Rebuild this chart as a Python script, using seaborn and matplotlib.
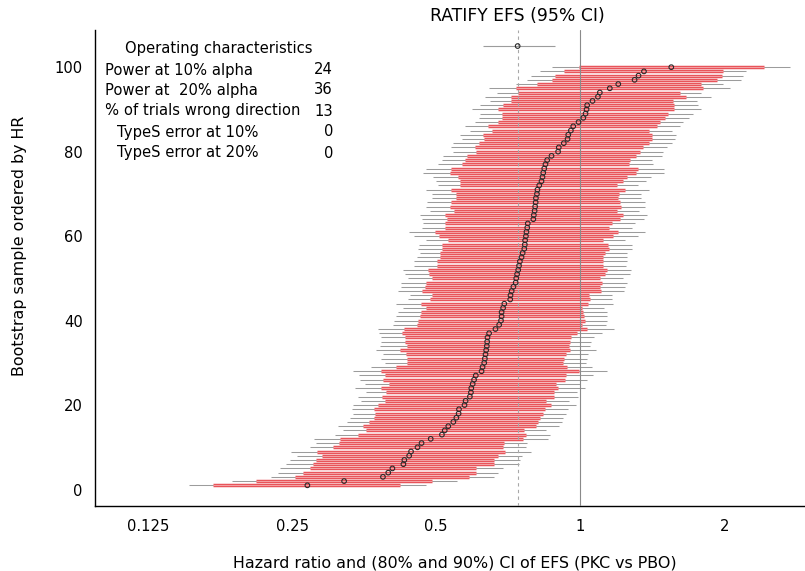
import numpy as np
import pandas as pd
import matplotlib
matplotlib.use("Agg")
import matplotlib.pyplot as plt
import matplotlib.transforms as mtransforms
import seaborn as sns

# ---------------- data ----------------
sample = list(range(1, 101))
hr = [0.269, 0.321, 0.387, 0.397, 0.405, 0.427, 0.429, 0.439, 0.443, 0.457,
      0.466, 0.487, 0.514, 0.521, 0.530, 0.543, 0.551, 0.557, 0.558, 0.573,
      0.576, 0.588, 0.591, 0.592, 0.596, 0.600, 0.605, 0.622, 0.625, 0.630,
      0.632, 0.634, 0.636, 0.638, 0.639, 0.640, 0.645, 0.665, 0.677, 0.683,
      0.685, 0.685, 0.690, 0.694, 0.714, 0.715, 0.719, 0.725, 0.733, 0.735,
      0.738, 0.742, 0.745, 0.748, 0.754, 0.758, 0.764, 0.766, 0.767, 0.770,
      0.772, 0.775, 0.777, 0.798, 0.800, 0.803, 0.805, 0.807, 0.808, 0.812,
      0.814, 0.821, 0.830, 0.834, 0.837, 0.841, 0.846, 0.853, 0.871, 0.899,
      0.902, 0.924, 0.941, 0.944, 0.956, 0.967, 0.992, 1.015, 1.026, 1.031,
      1.034, 1.061, 1.089, 1.099, 1.153, 1.201, 1.299, 1.324, 1.359, 1.550]
lo80 = [0.171, 0.210, 0.254, 0.264, 0.272, 0.276, 0.281, 0.289, 0.282, 0.305,
        0.313, 0.315, 0.344, 0.356, 0.351, 0.362, 0.370, 0.372, 0.370, 0.378,
        0.391, 0.386, 0.392, 0.384, 0.399, 0.387, 0.391, 0.384, 0.413, 0.434,
        0.434, 0.432, 0.421, 0.434, 0.430, 0.430, 0.425, 0.428, 0.455, 0.459,
        0.462, 0.464, 0.476, 0.464, 0.485, 0.491, 0.468, 0.473, 0.476, 0.491,
        0.483, 0.481, 0.503, 0.501, 0.509, 0.510, 0.513, 0.515, 0.530, 0.507,
        0.498, 0.521, 0.521, 0.526, 0.521, 0.544, 0.534, 0.536, 0.550, 0.550,
        0.537, 0.562, 0.560, 0.556, 0.534, 0.537, 0.566, 0.574, 0.580, 0.607,
        0.602, 0.614, 0.630, 0.627, 0.655, 0.642, 0.672, 0.687, 0.685, 0.672,
        0.688, 0.718, 0.715, 0.742, 0.734, 0.811, 0.871, 0.885, 0.926, 0.994]
hi80 = [0.421, 0.491, 0.586, 0.605, 0.607, 0.660, 0.660, 0.672, 0.696, 0.688,
        0.694, 0.758, 0.770, 0.763, 0.807, 0.817, 0.824, 0.837, 0.844, 0.868,
        0.850, 0.882, 0.881, 0.899, 0.892, 0.929, 0.936, 0.995, 0.939, 0.922,
        0.925, 0.936, 0.954, 0.949, 0.951, 0.956, 0.986, 1.034, 1.011, 1.023,
        1.018, 1.015, 1.011, 1.039, 1.047, 1.044, 1.103, 1.099, 1.113, 1.099,
        1.126, 1.135, 1.114, 1.117, 1.117, 1.126, 1.148, 1.144, 1.117, 1.172,
        1.201, 1.150, 1.163, 1.210, 1.230, 1.191, 1.214, 1.210, 1.201, 1.207,
        1.240, 1.191, 1.226, 1.254, 1.311, 1.322, 1.266, 1.270, 1.311, 1.333,
        1.350, 1.394, 1.410, 1.410, 1.394, 1.444, 1.467, 1.503, 1.527, 1.572,
        1.570, 1.560, 1.663, 1.616, 1.808, 1.785, 1.933, 1.974, 1.990, 2.420]
lo90 = [0.152, 0.187, 0.226, 0.234, 0.236, 0.243, 0.248, 0.256, 0.249, 0.272,
        0.280, 0.278, 0.307, 0.320, 0.312, 0.325, 0.330, 0.335, 0.333, 0.335,
        0.349, 0.343, 0.357, 0.339, 0.355, 0.346, 0.345, 0.335, 0.366, 0.390,
        0.384, 0.387, 0.374, 0.381, 0.384, 0.384, 0.380, 0.378, 0.406, 0.408,
        0.413, 0.417, 0.427, 0.413, 0.437, 0.440, 0.417, 0.423, 0.423, 0.437,
        0.430, 0.427, 0.449, 0.449, 0.456, 0.462, 0.458, 0.461, 0.477, 0.449,
        0.438, 0.468, 0.470, 0.467, 0.463, 0.486, 0.476, 0.479, 0.491, 0.491,
        0.476, 0.505, 0.499, 0.493, 0.470, 0.475, 0.505, 0.513, 0.517, 0.543,
        0.538, 0.543, 0.565, 0.560, 0.588, 0.574, 0.602, 0.615, 0.617, 0.594,
        0.617, 0.647, 0.632, 0.670, 0.645, 0.735, 0.775, 0.791, 0.826, 0.871]
hi90 = [0.477, 0.553, 0.660, 0.674, 0.690, 0.746, 0.748, 0.754, 0.791, 0.770,
        0.775, 0.857, 0.864, 0.850, 0.904, 0.914, 0.921, 0.936, 0.945, 0.979,
        0.949, 0.990, 0.986, 1.023, 0.998, 1.034, 1.061, 1.139, 1.056, 1.030,
        1.034, 1.039, 1.078, 1.048, 1.051, 1.068, 1.108, 1.176, 1.131, 1.139,
        1.135, 1.135, 1.120, 1.169, 1.163, 1.163, 1.234, 1.240, 1.254, 1.230,
        1.270, 1.274, 1.246, 1.250, 1.250, 1.254, 1.285, 1.280, 1.240, 1.322,
        1.365, 1.280, 1.301, 1.359, 1.381, 1.329, 1.365, 1.365, 1.337, 1.343,
        1.394, 1.322, 1.372, 1.403, 1.496, 1.500, 1.421, 1.410, 1.479, 1.491,
        1.515, 1.559, 1.577, 1.585, 1.552, 1.616, 1.642, 1.690, 1.717, 1.785,
        1.764, 1.751, 1.873, 1.790, 2.055, 1.990, 2.170, 2.190, 2.220, 2.740]

ref_title = "RATIFY EFS (95% CI)"
ref_y = [105]
ref_hr = [0.74]
ref_lo = [0.625]
ref_hi = [0.885]

xticks = [0.125, 0.25, 0.5, 1, 2]
xtick_labels = ["0.125", "0.25", "0.5", "1", "2"]
yticks = [0, 20, 40, 60, 80, 100]

oc_title = "Operating characteristics"
oc_labels = ["Power at 10% alpha", "Power at  20% alpha",
             "% of trials wrong direction", "TypeS error at 10%",
             "TypeS error at 20%"]
oc_values = ["24", "36", "13", "0", "0"]
oc_indent = [False, False, False, True, True]

xlabel = "Hazard ratio and (80% and 90%) CI of EFS (PKC vs PBO)"
ylabel = "Bootstrap sample ordered by HR"

# ---------------- styling ----------------
sns.set_style("white")
plt.rcParams['font.family'] = ['DejaVu Sans']
plt.rcParams['text.color'] = 'black'
FS = 10.6
FS_T = 11.4

W, H = 805, 571
fig = plt.figure(figsize=(W / 100, H / 100), dpi=100)
ax = fig.add_axes([95 / W, (H - 506) / H, 710 / W, 476 / H])
ax.set_xscale('log', base=2)

df = pd.DataFrame({"sample": sample, "hr": hr, "lo80": lo80, "hi80": hi80,
                   "lo90": lo90, "hi90": hi90})
ref = pd.DataFrame({"y": ref_y, "hr": ref_hr, "lo": ref_lo, "hi": ref_hi})

# 90% CI (thin grey)
ax.hlines(df["sample"], df["lo90"], df["hi90"], color="#9c9c9c", lw=0.75, zorder=1)
# 80% CI (red bar with light centre)
ax.hlines(df["sample"], df["lo80"], df["hi80"], color="#e8545a", lw=2.5, zorder=2)
ax.hlines(df["sample"], df["lo80"], df["hi80"], color="#f6b0b2", lw=0.6, zorder=3)
# reference lines
ax.axvline(1, color="#8a8a8a", lw=0.8, zorder=4)
ax.axvline(ref_hr[0], color="#a8a8a8", lw=0.8, ls=(0, (3, 3)), zorder=4)
# RATIFY estimate
ax.hlines(ref["y"], ref["lo"], ref["hi"], color="#9c9c9c", lw=0.8, zorder=4)

sns.scatterplot(data=df, x="hr", y="sample", marker="o", s=11,
                facecolor="none", edgecolor="#2a2a2a", linewidth=0.8,
                ax=ax, zorder=5, legend=False)
sns.scatterplot(data=ref, x="hr", y="y", marker="o", s=11,
                facecolor="none", edgecolor="#2a2a2a", linewidth=0.8,
                ax=ax, zorder=5, legend=False)

ax.set_xlim(0.0968, 2.95)
ax.set_ylim(-3.9, 108.8)
ax.set_xticks(xticks)
ax.set_xticklabels(xtick_labels)
ax.xaxis.set_minor_locator(matplotlib.ticker.NullLocator())
ax.set_yticks(yticks)
ax.set_yticklabels([str(v) for v in yticks])
ax.tick_params(axis='both', which='major', direction='out', length=4.5,
               width=0.8, color='black', labelsize=FS, labelcolor='black')
ax.tick_params(axis='x', pad=5)
ax.tick_params(axis='y', pad=4.5)
for s in ["top", "right"]:
    ax.spines[s].set_visible(False)
for s in ["left", "bottom"]:
    ax.spines[s].set_color("black")
    ax.spines[s].set_linewidth(1.0)
ax.set_xlabel("")
ax.set_ylabel("")


def fx(px):
    return px / W


def fy(py):
    return 1 - py / H


fig.text(fx(455), fy(563), xlabel, ha="center", va="center", fontsize=FS_T)
fig.text(fx(20), fy(246), ylabel, ha="center", va="center", rotation=90, fontsize=FS_T)

trans = mtransforms.blended_transform_factory(ax.transData, fig.transFigure)
ax.text(ref_hr[0], fy(16), ref_title, transform=trans, ha="center", va="center",
        fontsize=12.4)

fig.text(fx(219), fy(49), oc_title, ha="center", va="center", fontsize=FS)
row_y = [70, 90, 111, 132, 153]
for lab, val, ind, py in zip(oc_labels, oc_values, oc_indent, row_y):
    fig.text(fx(117 if ind else 105), fy(py), lab, ha="left", va="center", fontsize=FS)
    fig.text(fx(333), fy(py), val, ha="right", va="center", fontsize=FS)

fig.savefig("out.png", dpi=100)
